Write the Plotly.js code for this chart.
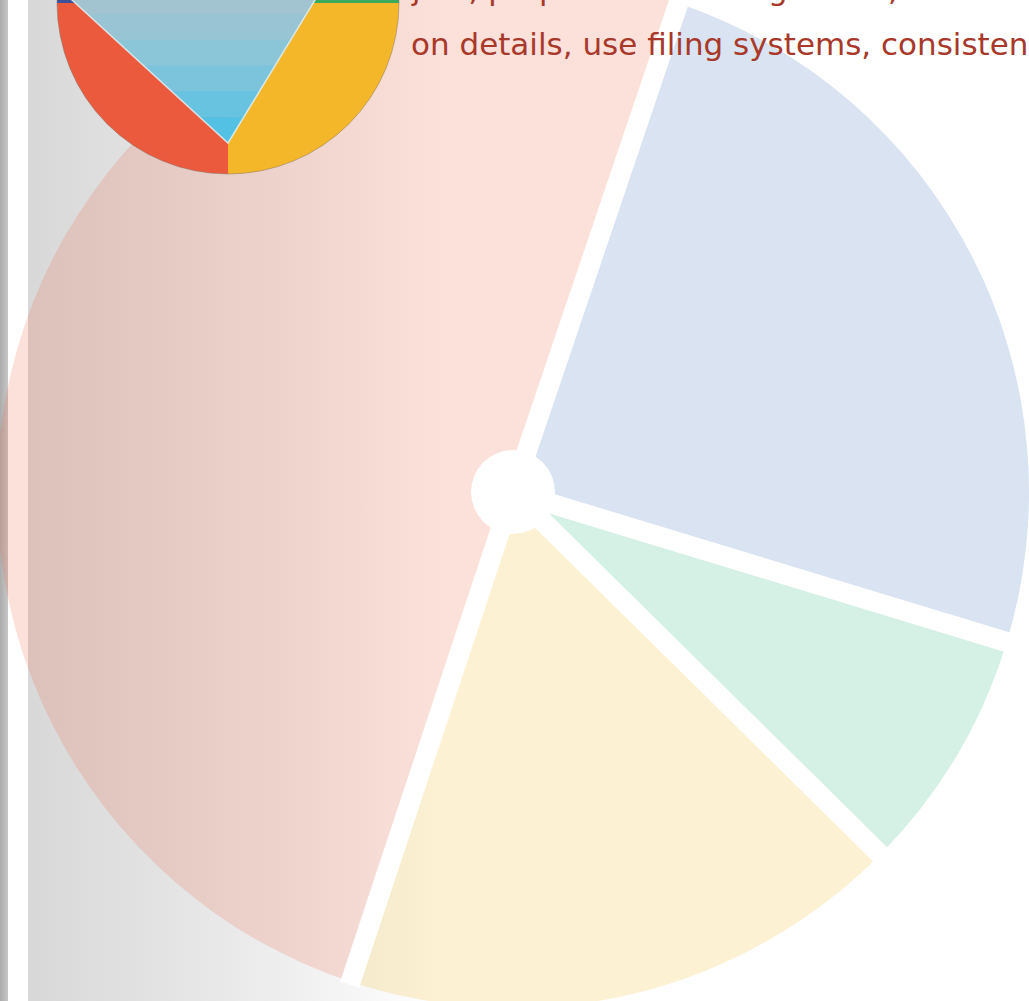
<!DOCTYPE html>
<html>
<head>
<meta charset="utf-8">
<script src="https://cdn.plot.ly/plotly-3.0.1.min.js"></script>
<style>
html, body { margin:0; padding:0; width:1029px; height:1001px; overflow:hidden; background:#ffffff; }
#bg { position:absolute; left:0; top:0; width:1029px; height:1001px;
  background: linear-gradient(to right, #acacac 0px, #c6c6c6 8px, #ffffff 8px, #ffffff 28px,
    #d8d8d8 28px, #e2e2e2 150px, #eeeeee 280px, #f9f9f9 380px, #ffffff 440px, #ffffff 100%); }
#chart { position:absolute; left:-20px; top:-200px; width:1070px; height:1230px; }
</style>
</head>
<body>
<div id="bg"></div>
<div id="chart"></div>
<script>
// ---- data ----
const segmentLabels = ['Segment 1', 'Segment 2', 'Segment 3', 'Segment 4'];
const segmentValues = [24.5, 7.7, 17.7, 50.1];
const segmentColors = ['rgba(65,115,185,0.2)', 'rgba(45,180,125,0.2)', 'rgba(245,185,40,0.2)', 'rgba(240,100,70,0.2)'];
const startAngle = 18.7;

const iconLabels = ['Green', 'Yellow', 'Red', 'Blue'];
const iconValues = [25, 25, 25, 25];
const iconColors = ['#3BAA5C', '#F5B72A', '#EC5A3D', '#3E4F9C'];

const textLines = ['just, proper time management, and focus',
                   'on details, use filing systems, consistently'];

// ---- page geometry (page pixels -> figure paper) ----
const W = 1070, H = 1230, OX = 20, OY = 200;
const px = x => (x + OX) / W;
const py = y => 1 - (y + OY) / H;

const main = { cx: 513, cy: 492, r: 516, gap: 20, hub: 42 };
const icon = { cx: 228, cy: 3, r: 171, apexX: 228, apexY: 143, leftX: 72, rightX: 315 };

const traces = [
  {
    type: 'pie', labels: segmentLabels, values: segmentValues, sort: false,
    direction: 'clockwise', rotation: startAngle, textinfo: 'none',
    hoverinfo: 'label+percent', showlegend: false,
    marker: { colors: segmentColors, line: { color: 'rgba(255,255,255,0)', width: 0 } },
    domain: { x: [px(main.cx - main.r), px(main.cx + main.r)], y: [py(main.cy + main.r), py(main.cy - main.r)] }
  },
  {
    type: 'pie', labels: iconLabels, values: iconValues, sort: false,
    direction: 'clockwise', rotation: 0, textinfo: 'none', hoverinfo: 'skip', showlegend: false,
    marker: { colors: iconColors, line: { color: 'rgba(255,255,255,0)', width: 0 } },
    domain: { x: [px(icon.cx - icon.r), px(icon.cx + icon.r)], y: [py(icon.cy + icon.r), py(icon.cy - icon.r)] }
  }
];

const shapes = [];
// white separators between the slices, at the cumulative slice angles
const total = segmentValues.reduce((a, b) => a + b, 0);
let acc = 0;
segmentValues.forEach(v => {
  const th = (startAngle + 360 * acc / total) * Math.PI / 180;
  const ex = main.cx + (main.r + 3) * Math.sin(th), ey = main.cy - (main.r + 3) * Math.cos(th);
  shapes.push({ type: 'line', xref: 'paper', yref: 'paper', layer: 'above',
    x0: px(main.cx), y0: py(main.cy), x1: px(ex), y1: py(ey),
    line: { color: '#ffffff', width: main.gap } });
  acc += v;
});
// white hub
shapes.push({ type: 'circle', xref: 'paper', yref: 'paper', layer: 'above',
  x0: px(main.cx - main.hub), x1: px(main.cx + main.hub), y0: py(main.cy + main.hub), y1: py(main.cy - main.hub),
  fillcolor: '#ffffff', line: { width: 0 } });

// cyan triangle of the icon, banded to imitate its gradient
const bandCols = ['#A2C3D0', '#98C4D4', '#8BC5D8', '#7BC4DC', '#68C3E0', '#52C1E3'];
const yTop = -12, nB = bandCols.length;
const lx = y => icon.apexX - (icon.apexX - icon.leftX) * (icon.apexY - y) / icon.apexY;
const rx = y => icon.apexX + (icon.rightX - icon.apexX) * (icon.apexY - y) / icon.apexY;
for (let i = 0; i < nB; i++) {
  const y0 = yTop + (icon.apexY - yTop) * i / nB;
  const yy1 = Math.min(yTop + (icon.apexY - yTop) * (i + 1) / nB + 0.6, icon.apexY);
  shapes.push({
    type: 'path', xref: 'paper', yref: 'paper', layer: 'above',
    path: `M ${px(lx(y0))} ${py(y0)} L ${px(rx(y0))} ${py(y0)} L ${px(rx(yy1))} ${py(yy1)} L ${px(lx(yy1))} ${py(yy1)} Z`,
    fillcolor: bandCols[i], line: { width: 0 }
  });
}
shapes.push({
  type: 'path', xref: 'paper', yref: 'paper', layer: 'above',
  path: `M ${px(lx(yTop))} ${py(yTop)} L ${px(icon.apexX)} ${py(icon.apexY)} L ${px(rx(yTop))} ${py(yTop)}`,
  line: { color: 'rgba(225,240,245,0.85)', width: 1.5 }
});
shapes.push({
  type: 'circle', xref: 'paper', yref: 'paper', layer: 'above',
  x0: px(icon.cx - icon.r), x1: px(icon.cx + icon.r), y0: py(icon.cy + icon.r), y1: py(icon.cy - icon.r),
  line: { color: 'rgba(120,110,100,0.45)', width: 1 }
});

const annotations = [
  { text: textLines[0], baseline: -2 },
  { text: textLines[1], baseline: 53 }
].map(t => ({
  text: t.text, xref: 'paper', yref: 'paper', x: px(409), y: py(t.baseline - 9.5),
  xanchor: 'left', yanchor: 'middle', showarrow: false, align: 'left',
  font: { family: 'DejaVu Sans', size: 31, color: '#A8392A' }
}));

const layout = {
  width: W, height: H, margin: { l: 0, r: 0, t: 0, b: 0, pad: 0 },
  paper_bgcolor: 'rgba(0,0,0,0)', plot_bgcolor: 'rgba(0,0,0,0)',
  showlegend: false, shapes: shapes, annotations: annotations
};

Plotly.newPlot('chart', traces, layout, { displayModeBar: false, staticPlot: true });
</script>
</body>
</html>
